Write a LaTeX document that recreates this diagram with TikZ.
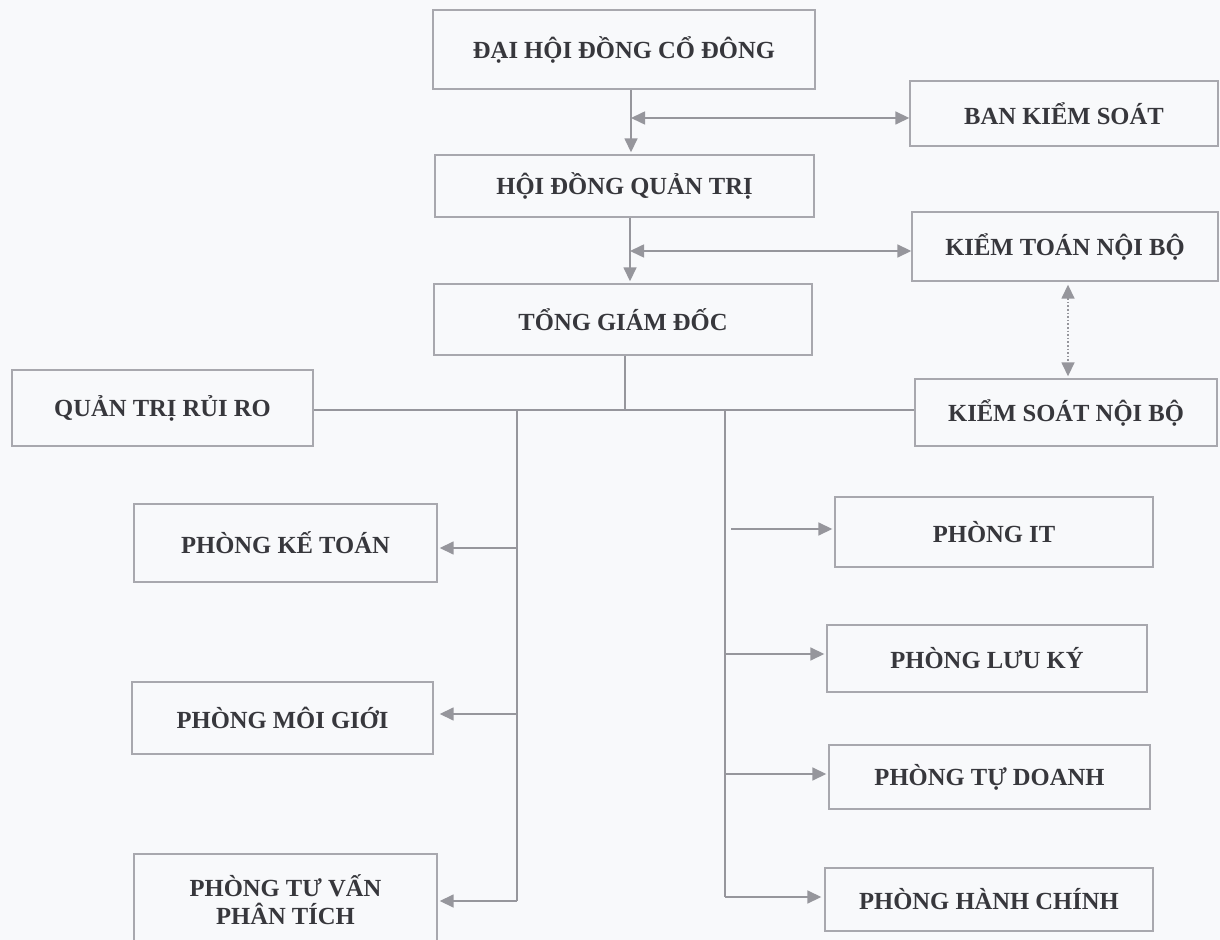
\documentclass[tikz,border=0pt]{standalone}
\usepackage{fontspec}
\setmainfont{Liberation Serif}
\usetikzlibrary{arrows.meta}
\definecolor{bg}{RGB}{248,249,251}
\definecolor{ln}{RGB}{150,150,156}
\definecolor{bx}{RGB}{168,168,174}
\definecolor{tx}{RGB}{55,55,60}
\tikzset{
 box/.style={draw=bx, line width=0.7pt, inner sep=0pt, align=center, font=\bfseries\fontsize{12.3}{14}\selectfont, text=tx},
 conn/.style={draw=ln, line width=0.8pt},
 arr/.style={conn, -{Triangle[length=7pt,width=6.5pt]}},
 darr/.style={conn, {Triangle[length=7pt,width=6.5pt]}-{Triangle[length=7pt,width=6.5pt]}},
}
\newcommand{\bx}[6]{\node[box, minimum width=#4*0.5pt, minimum height=#5*0.5pt] (#1) at (#2,#3) {#6};}
\begin{document}
\begin{tikzpicture}[x=0.5pt,y=-0.5pt]
\fill[bg] (0,0) rectangle (1220,940);
\useasboundingbox (0,0) rectangle (1220,940);
\clip (0,0) rectangle (1220,940);
% boxes
\bx{dh}{624}{49.5}{382}{79}{ĐẠI HỘI ĐỒNG CỔ ĐÔNG}
\bx{bks}{1064}{113.5}{308}{65}{BAN KIỂM SOÁT}
\bx{hd}{624.5}{186}{379}{62}{HỘI ĐỒNG QUẢN TRỊ}
\bx{ktnb}{1065}{246.5}{306}{69}{KIỂM TOÁN NỘI BỘ}
\bx{tgd}{623}{319.5}{378}{71}{TỔNG GIÁM ĐỐC}
\bx{qtrr}{162.5}{408}{301}{76}{QUẢN TRỊ RỦI RO}
\bx{ksnb}{1066}{412.5}{302}{67}{KIỂM SOÁT NỘI BỘ}
\bx{pkt}{285.5}{543}{303}{78}{PHÒNG KẾ TOÁN}
\bx{pmg}{282.5}{718}{301}{72}{PHÒNG MÔI GIỚI}
\bx{ptv}{285.5}{899.5}{303}{91}{PHÒNG TƯ VẤN\\PHÂN TÍCH}
\bx{pit}{994}{532}{318}{70}{PHÒNG IT}
\bx{plk}{987}{658.5}{320}{67}{PHÒNG LƯU KÝ}
\bx{ptd}{989.5}{777}{321}{64}{PHÒNG TỰ DOANH}
\bx{phc}{989}{899.5}{328}{63}{PHÒNG HÀNH CHÍNH}
% top chain
\coordinate (c1) at (631,118);
\draw[arr] (dh.south -| c1) -- ([yshift=1pt]hd.north -| c1);
\draw[darr] (c1) -- (c1 -| bks.west);
\coordinate (c2) at (630,251);
\draw[arr] (hd.south -| c2) -- ([yshift=1pt]tgd.north -| c2);
\draw[darr] (c2) -- (c2 -| ktnb.west);
\coordinate (c3) at (1068,300);
\draw[darr, densely dotted] ([yshift=-1.5pt]ktnb.south -| c3) -- ([yshift=1pt]ksnb.north -| c3);
% main junction
\coordinate (j) at (625,410);
\draw[conn] (tgd.south -| j) -- (j);
\draw[conn] (qtrr.east |- j) -- (ksnb.west |- j);
% left bus
\coordinate (lb) at (517,410);
\coordinate (lbe) at (517,901);
\draw[conn] (lb) -- (lbe);
\coordinate (l1) at (517,548);
\coordinate (l2) at (517,714);
\draw[arr] (l1) -- ([xshift=1pt]l1 -| pkt.east);
\draw[arr] (l2) -- ([xshift=3pt]l2 -| pmg.east);
\draw[arr] (lbe) -- ([xshift=1pt]lbe -| ptv.east);
% right bus
\coordinate (rb) at (725,410);
\coordinate (rbe) at (725,897);
\draw[conn] (rb) -- (rbe);
\coordinate (r1) at (731,529);
\coordinate (r2) at (725,654);
\coordinate (r3) at (725,774);
\draw[arr] (r1) -- ([xshift=-1pt]r1 -| pit.west);
\draw[arr] (r2) -- ([xshift=-1pt]r2 -| plk.west);
\draw[arr] (r3) -- ([xshift=-1pt]r3 -| ptd.west);
\draw[arr] (rbe) -- ([xshift=-1.5pt]rbe -| phc.west);
\end{tikzpicture}
\end{document}
